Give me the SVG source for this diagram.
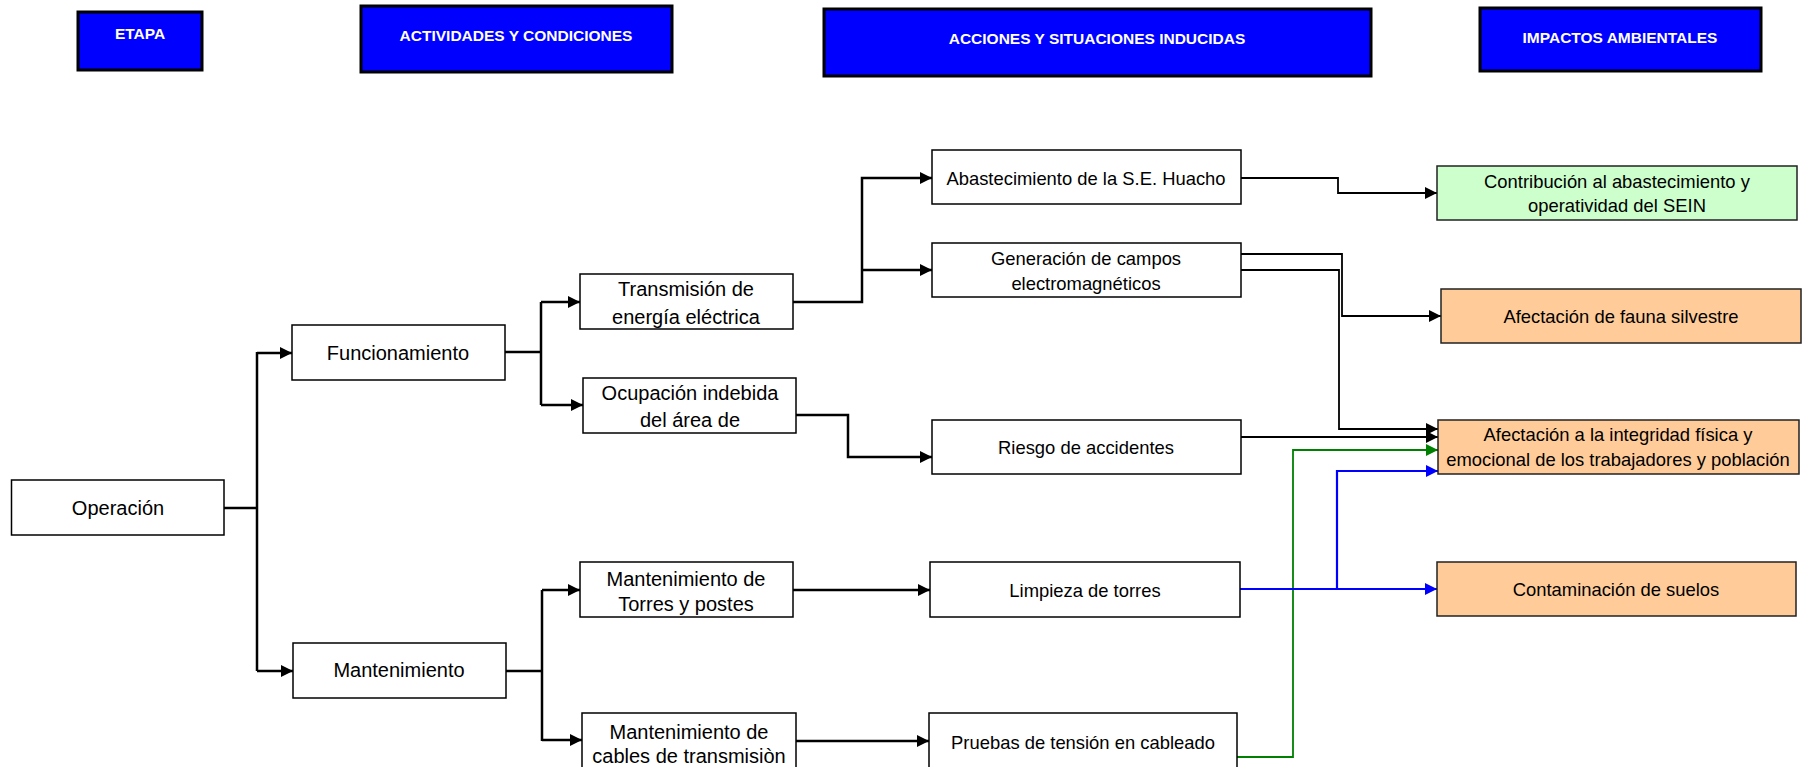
<svg xmlns="http://www.w3.org/2000/svg" width="1803" height="767" viewBox="0 0 1803 767">
<style>
.hdr rect{fill:#0000FF;stroke:#000;stroke-width:3}
.hdr text{fill:#fff;font-family:"Liberation Sans",Arial,sans-serif;font-weight:bold;font-size:15.5px;text-anchor:middle}
.n rect{fill:#fff;stroke:#000;stroke-width:1.5}
.n text{fill:#000;font-family:"Liberation Sans",Arial,sans-serif;text-anchor:middle}
.l text{font-size:20px}
.m text,.r text{font-size:18.4px}
.r.g rect{fill:#CCFFCC;stroke:#222}
.r.o rect{fill:#FFCC99;stroke:#222}
.c path{fill:none;stroke-linejoin:miter}
.k{stroke:#000;stroke-width:2.5}
.k2{stroke:#000;stroke-width:1.8}
.gr{stroke:#008000;stroke-width:1.8}
.bl{stroke:#0000FF;stroke-width:2.2}
</style>
<defs>
<marker id="ak" markerUnits="userSpaceOnUse" markerWidth="12" markerHeight="12" refX="12" refY="6" orient="auto"><path d="M0,0 L12,6 L0,12 z" fill="#000"/></marker>
<marker id="ag" markerUnits="userSpaceOnUse" markerWidth="12" markerHeight="12" refX="12" refY="6" orient="auto"><path d="M0,0 L12,6 L0,12 z" fill="#008000"/></marker>
<marker id="ab" markerUnits="userSpaceOnUse" markerWidth="12" markerHeight="12" refX="12" refY="6" orient="auto"><path d="M0,0 L12,6 L0,12 z" fill="#0000FF"/></marker>
</defs>
<rect width="1803" height="767" fill="#fff"/>

<g id="h-etapa" class="hdr"><rect x="78" y="12" width="124" height="58"/><text x="140" y="38.5">ETAPA</text></g>
<g id="h-actividades" class="hdr"><rect x="361" y="6" width="311" height="66"/><text x="516" y="40.5">ACTIVIDADES Y CONDICIONES</text></g>
<g id="h-acciones" class="hdr"><rect x="824" y="9" width="547" height="67"/><text x="1097" y="43.5">ACCIONES Y SITUACIONES INDUCIDAS</text></g>
<g id="h-impactos" class="hdr"><rect x="1480" y="8" width="281" height="63"/><text x="1620" y="42.5">IMPACTOS AMBIENTALES</text></g>

<g id="connectors" class="c">
<path class="k" d="M224,508 H257 M257,352 V671"/>
<path class="k" d="M257,353 H292" marker-end="url(#ak)"/>
<path class="k" d="M257,671 H293" marker-end="url(#ak)"/>
<path class="k" d="M505,352 H541 M541,302 V405"/>
<path class="k" d="M541,302 H580" marker-end="url(#ak)"/>
<path class="k" d="M541,405 H583" marker-end="url(#ak)"/>
<path class="k" d="M506,671 H542 M542,590 V741"/>
<path class="k" d="M542,590 H580" marker-end="url(#ak)"/>
<path class="k" d="M542,740 H582" marker-end="url(#ak)"/>
<path class="k" d="M793,302 H862 V178 H932" marker-end="url(#ak)"/>
<path class="k" d="M862,270 H932" marker-end="url(#ak)"/>
<path class="k" d="M796,415 H848 V457 H932" marker-end="url(#ak)"/>
<path class="k" d="M793,590 H930" marker-end="url(#ak)"/>
<path class="k" d="M796,741 H929" marker-end="url(#ak)"/>
<path class="k2" d="M1241,178 H1338 V193 H1437" marker-end="url(#ak)"/>
<path class="k2" d="M1241,254 H1342 V316 H1441" marker-end="url(#ak)"/>
<path class="k2" d="M1241,270 H1339 V429 H1438" marker-end="url(#ak)"/>
<path class="k2" d="M1241,437 H1438" marker-end="url(#ak)"/>
<path class="gr" d="M1237,757 H1293 V450 H1438" marker-end="url(#ag)"/>
<path class="bl" d="M1240,589 H1437" marker-end="url(#ab)"/>
<path class="bl" d="M1337,589 V471 H1438" marker-end="url(#ab)"/>
</g>

<g id="n-operacion" class="n l"><rect x="11.5" y="480" width="212.5" height="55"/><text x="118" y="515">Operación</text></g>
<g id="n-funcionamiento" class="n l"><rect x="292" y="325" width="213" height="55"/><text x="398" y="360">Funcionamiento</text></g>
<g id="n-mantenimiento" class="n l"><rect x="293" y="643" width="213" height="55"/><text x="399" y="677">Mantenimiento</text></g>
<g id="n-transmision" class="n l"><rect x="580" y="274" width="213" height="55"/><text x="686" y="296">Transmisión de</text><text x="686" y="324">energía eléctrica</text></g>
<g id="n-ocupacion" class="n l"><rect x="583" y="378" width="213" height="55"/><text x="690" y="400">Ocupación indebida</text><text x="690" y="427">del área de</text></g>
<g id="n-mant-torres" class="n l"><rect x="580" y="562" width="213" height="55"/><text x="686" y="586">Mantenimiento de</text><text x="686" y="611">Torres y postes</text></g>
<g id="n-mant-cables" class="n l"><rect x="582" y="713" width="214" height="56"/><text x="689" y="739">Mantenimiento de</text><text x="689" y="763">cables de transmisiòn</text></g>

<g id="n-abastecimiento" class="n m"><rect x="932" y="150" width="309" height="54"/><text x="1086" y="184.5">Abastecimiento de la S.E. Huacho</text></g>
<g id="n-generacion" class="n m"><rect x="932" y="243" width="309" height="54"/><text x="1086" y="264.5">Generación de campos</text><text x="1086" y="289.5">electromagnéticos</text></g>
<g id="n-riesgo" class="n m"><rect x="932" y="420" width="309" height="54"/><text x="1086" y="453.5">Riesgo de accidentes</text></g>
<g id="n-limpieza" class="n m"><rect x="930" y="562" width="310" height="55"/><text x="1085" y="596.5">Limpieza de torres</text></g>
<g id="n-pruebas" class="n m"><rect x="929" y="713" width="308" height="56"/><text x="1083" y="748.5">Pruebas de tensión en cableado</text></g>

<g id="n-contribucion" class="n r g"><rect x="1437" y="166" width="360" height="54"/><text x="1617" y="187.5">Contribución al abastecimiento y</text><text x="1617" y="211.5">operatividad del SEIN</text></g>
<g id="n-fauna" class="n r o"><rect x="1441" y="289" width="360" height="54"/><text x="1621" y="322.5">Afectación de fauna silvestre</text></g>
<g id="n-integridad" class="n r o"><rect x="1438" y="420" width="361" height="54"/><text x="1618" y="440.5">Afectación a la integridad física y</text><text x="1618" y="465.5">emocional de los trabajadores y población</text></g>
<g id="n-suelos" class="n r o"><rect x="1437" y="562" width="359" height="54"/><text x="1616" y="595.5">Contaminación de suelos</text></g>
</svg>
